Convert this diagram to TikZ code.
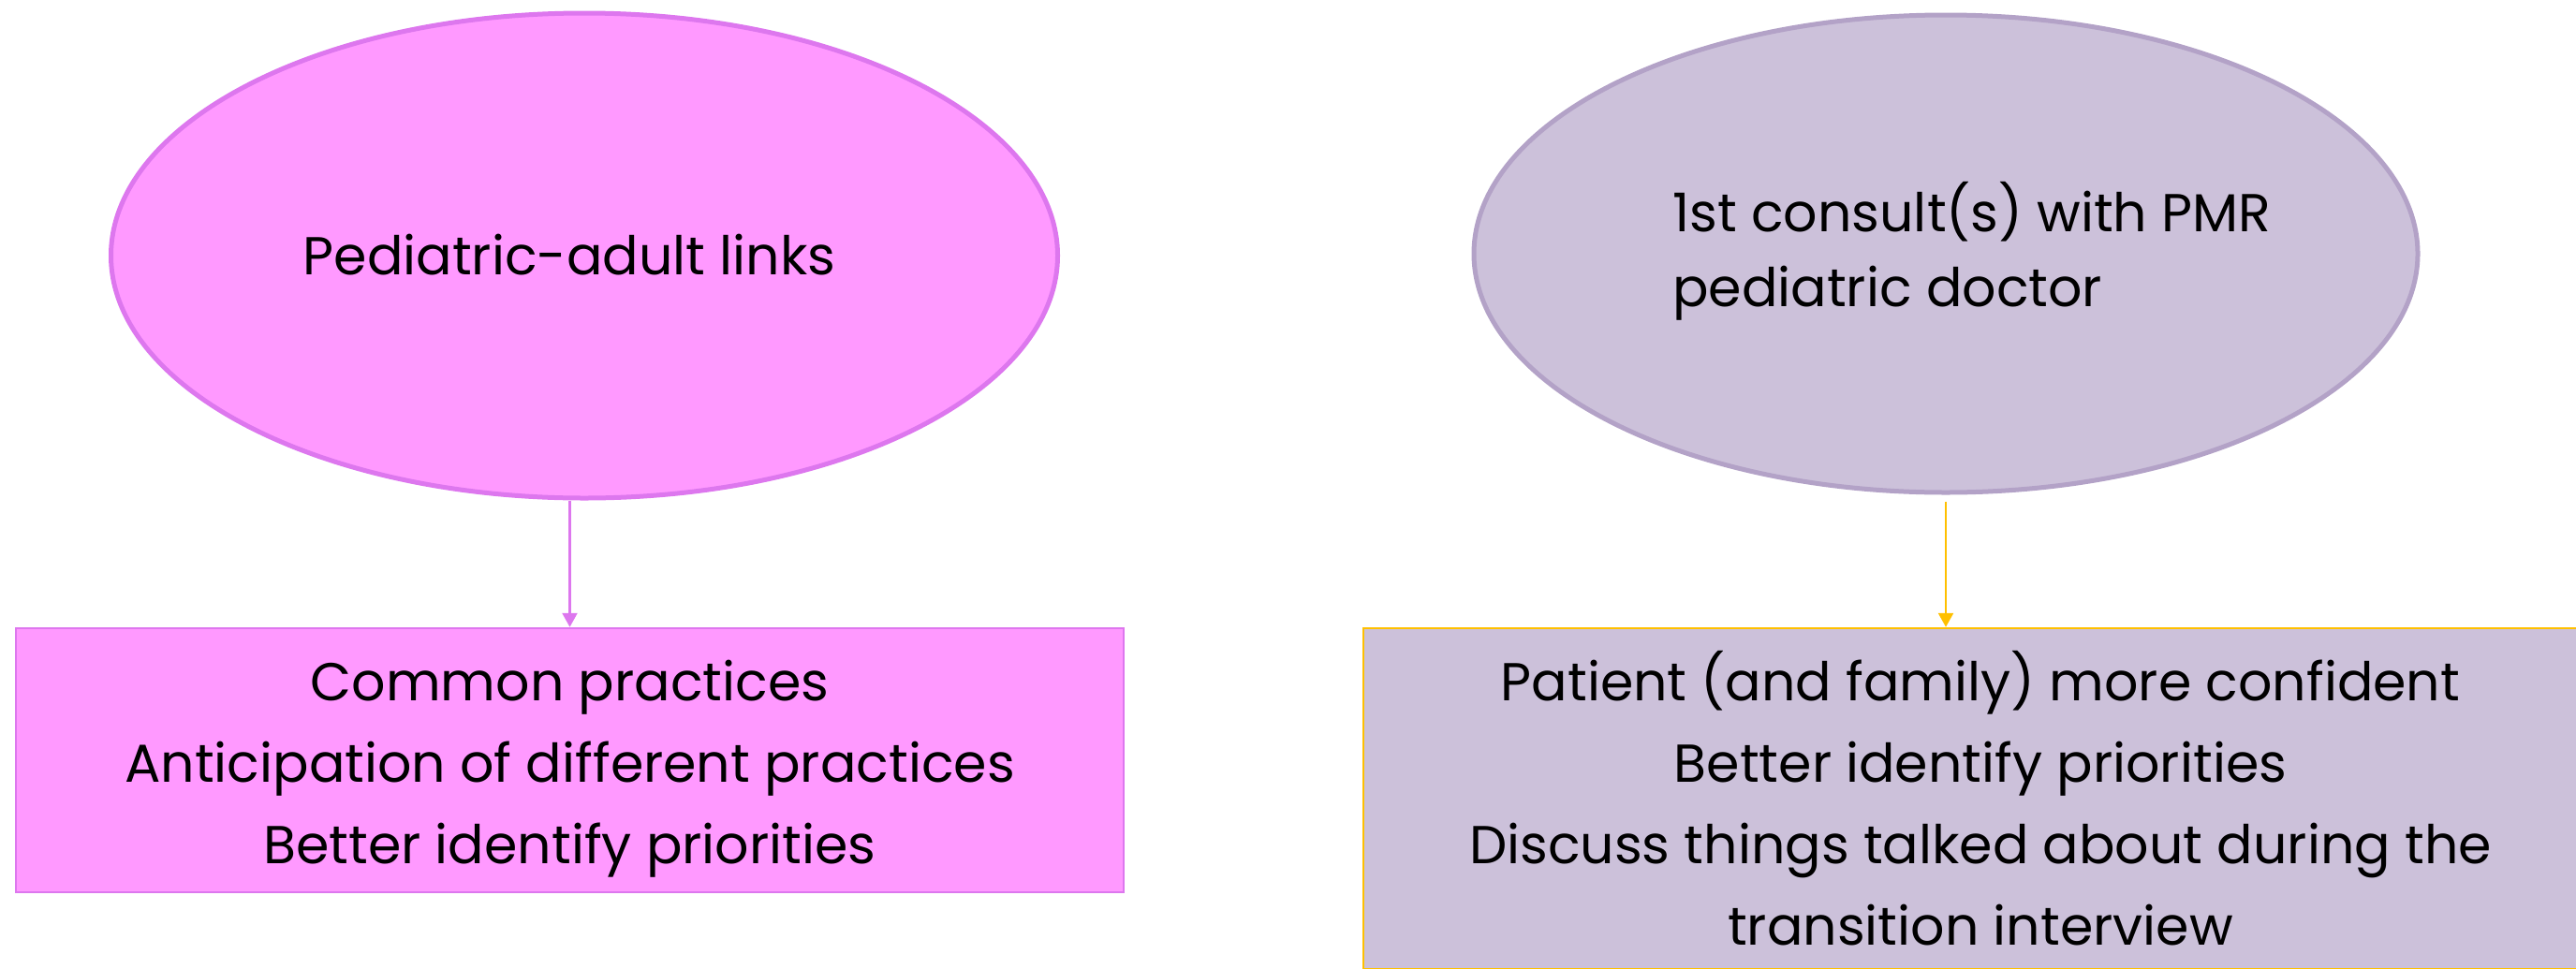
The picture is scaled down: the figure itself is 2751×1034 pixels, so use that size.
\documentclass[tikz,border=0pt]{standalone}
\usepackage{fontspec}
\setmainfont{Poppins}
\usetikzlibrary{shapes.geometric,arrows.meta}
\definecolor{pinkfill}{HTML}{FF99FF}
\definecolor{pinkline}{HTML}{DD77EE}
\definecolor{lilacfill}{HTML}{CCC1DA}
\definecolor{lilacline}{HTML}{B3A2C7}
\definecolor{goldline}{HTML}{FFC000}

\begin{document}
\begin{tikzpicture}[x=1pt,y=-1pt]
  \tikzstyle{every node}=[font=\fontsize{57}{87}\selectfont,inner sep=0pt]
  \tikzstyle{oval}=[ellipse,line width=5pt]
  \tikzstyle{block}=[rectangle,line width=2.5pt,align=center]
  \tikzstyle{link}=[line width=2.5pt,-{Triangle[length=15pt,width=16pt]}]
\useasboundingbox (0,0) rectangle (2751,1034);
\clip (0,0) rectangle (2751,1034);
% left column
\node[oval,draw=pinkline,fill=pinkfill,minimum width=1011pt,minimum height=518pt]
      (linksoval) at (624,273) {};
\node (linkstext) at (608,272) {Pediatric-adult links};
\node[block,draw=pinkline,fill=pinkfill,minimum width=1183pt,minimum height=282pt]
      (practices) at (608.5,812) {};
\node[align=center] (practicestext) at (608.5,821)
      {Common practices\\Anticipation of different practices\\Better identify priorities};
% right column
\node[oval,draw=lilacline,fill=lilacfill,minimum width=1008pt,minimum height=510pt]
      (consultoval) at (2078,271) {};
\node[align=left,anchor=west,font=\fontsize{57}{80}\selectfont]
      (consulttext) at (1786,268) {1st consult(s) with PMR\\pediatric doctor};
\node[block,draw=goldline,fill=lilacfill,minimum width=1318pt,minimum height=364pt]
      (confident) at (2115,853)
      {Patient (and family) more confident\\Better identify priorities\\Discuss things talked about during the\\transition interview};
% links
\draw[link,pinkline] (linksoval.south -| practices.north) -- (practices.north);
\draw[link,goldline,shorten <=7pt] (consultoval.south) -- (consultoval.south |- confident.north);
\end{tikzpicture}
\end{document}
